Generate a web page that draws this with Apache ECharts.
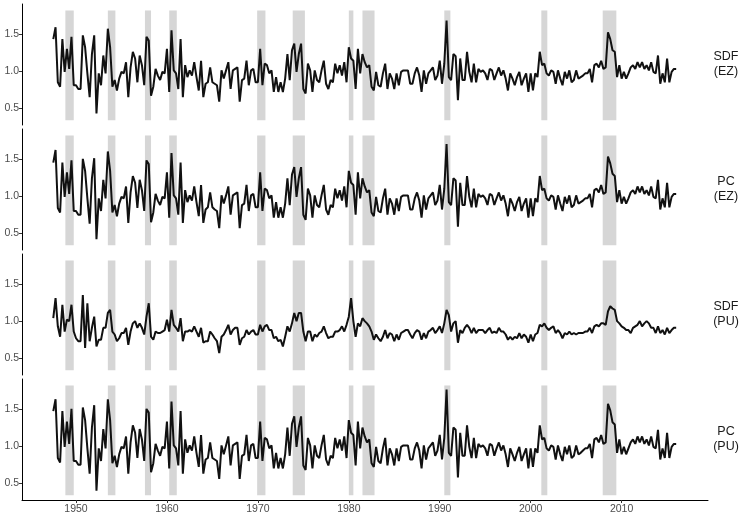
<!DOCTYPE html>
<html>
<head>
<meta charset="utf-8">
<script src="https://cdn.jsdelivr.net/npm/echarts@6.0.0/dist/echarts.min.js"></script>
<style>
  html, body { margin: 0; padding: 0; background: #fff; }
  #chart { width: 747px; height: 518px; }
</style>
</head>
<body>
<div id="chart"></div>
<script>
// quarterly series, first quarter at 1947.5
const startYear = 1947.5
const panelNames = ['SDF\n(EZ)', 'PC\n(EZ)', 'SDF\n(PU)', 'PC\n(PU)']

const sdfEZ = [
  1.43,1.59,0.85,0.79,1.43,0.99,1.30,1.03,1.46,0.81,
  0.81,0.76,0.76,1.48,1.32,0.97,0.65,1.23,1.48,0.43,
  0.97,0.81,1.21,0.97,1.57,1.32,0.79,0.88,0.74,0.90,
  0.99,0.97,1.12,0.65,1.05,1.26,1.17,0.85,1.21,1.08,
  0.81,1.46,1.41,0.67,0.79,1.03,0.94,0.88,0.99,0.97,
  1.30,0.72,1.55,1.01,0.97,0.76,1.43,0.65,1.08,0.92,
  1.01,0.94,1.12,0.92,0.74,1.14,0.65,0.83,0.85,1.05,
  0.85,0.83,0.81,0.59,1.01,0.90,1.01,1.12,0.76,1.01,
  1.03,1.05,0.59,0.88,0.90,1.14,0.81,1.01,1.03,0.85,
  0.85,1.30,0.81,1.10,1.08,0.97,1.01,0.72,0.92,0.72,
  0.85,0.72,0.90,1.23,0.88,1.28,1.37,0.99,1.23,1.37,
  0.76,0.70,1.10,1.01,0.72,1.01,0.88,0.85,1.01,1.14,
  0.83,0.76,0.88,0.85,1.10,0.97,1.08,0.94,1.12,0.85,
  1.32,1.17,1.14,0.76,1.30,0.97,1.23,1.12,1.05,1.08,
  0.79,0.74,0.99,0.81,0.79,0.97,1.10,0.76,0.97,0.90,
  0.76,0.97,0.81,0.99,1.01,1.01,1.01,0.83,0.83,0.97,
  1.05,0.94,0.72,1.01,0.83,0.97,1.01,1.05,0.88,0.94,
  1.14,0.83,1.10,1.68,0.92,0.88,1.23,1.20,0.61,1.17,
  0.88,0.88,1.26,0.99,0.85,1.10,0.85,1.03,0.99,1.01,
  0.97,0.88,1.03,1.01,0.88,0.97,1.05,0.94,1.01,0.90,
  0.74,0.97,0.90,0.81,0.92,0.99,0.81,0.90,0.97,0.72,
  0.97,0.74,0.97,0.92,1.26,1.08,1.10,0.97,0.94,1.01,
  0.99,0.83,1.01,0.90,0.81,0.99,0.90,1.01,0.85,0.88,
  1.01,0.90,0.92,0.94,0.97,0.97,1.03,0.85,1.08,1.10,
  1.05,1.14,1.03,1.05,1.52,1.43,1.28,1.26,0.92,1.08,
  0.90,0.99,0.90,0.97,1.05,1.08,1.03,1.12,1.05,1.12,
  1.03,1.08,1.01,1.12,0.99,0.97,1.21,0.83,0.97,0.85,
  1.17,0.85,0.99,1.03,1.03
]

const pcEZ = [
  1.45,1.62,0.84,0.78,1.45,0.99,1.32,1.03,1.48,0.80,
  0.80,0.75,0.75,1.50,1.34,0.97,0.63,1.24,1.51,0.42,
  0.97,0.80,1.22,0.97,1.60,1.34,0.78,0.88,0.73,0.90,
  0.99,0.97,1.13,0.64,1.05,1.27,1.18,0.84,1.22,1.08,
  0.80,1.48,1.43,0.65,0.78,1.03,0.94,0.88,0.99,0.97,
  1.32,0.71,1.58,1.01,0.97,0.75,1.45,0.64,1.08,0.92,
  1.01,0.94,1.13,0.92,0.73,1.15,0.64,0.82,0.85,1.05,
  0.85,0.82,0.80,0.57,1.01,0.90,1.01,1.13,0.75,1.01,
  1.03,1.05,0.57,0.88,0.90,1.15,0.80,1.01,1.03,0.85,
  0.85,1.32,0.80,1.10,1.08,0.97,1.01,0.71,0.92,0.71,
  0.85,0.71,0.90,1.24,0.88,1.29,1.39,0.99,1.24,1.39,
  0.75,0.68,1.10,1.01,0.71,1.01,0.88,0.85,1.01,1.15,
  0.82,0.75,0.88,0.85,1.10,0.97,1.08,0.94,1.13,0.85,
  1.34,1.18,1.15,0.75,1.32,0.97,1.24,1.13,1.05,1.08,
  0.78,0.73,0.99,0.80,0.78,0.97,1.10,0.75,0.97,0.90,
  0.75,0.97,0.80,0.99,1.01,1.01,1.01,0.82,0.82,0.97,
  1.05,0.94,0.71,1.01,0.82,0.97,1.01,1.05,0.88,0.94,
  1.15,0.82,1.10,1.70,0.92,0.88,1.24,1.21,0.59,1.18,
  0.88,0.88,1.27,0.99,0.85,1.10,0.85,1.03,0.99,1.01,
  0.97,0.88,1.03,1.01,0.88,0.97,1.05,0.94,1.01,0.90,
  0.73,0.97,0.90,0.80,0.92,0.99,0.80,0.90,0.97,0.71,
  0.97,0.73,0.97,0.92,1.27,1.08,1.10,0.97,0.94,1.01,
  0.99,0.82,1.01,0.90,0.80,0.99,0.90,1.01,0.85,0.88,
  1.01,0.90,0.92,0.94,0.97,0.97,1.03,0.85,1.08,1.10,
  1.05,1.15,1.03,1.05,1.53,1.44,1.30,1.27,0.92,1.08,
  0.90,0.99,0.90,0.97,1.05,1.08,1.03,1.13,1.05,1.13,
  1.03,1.08,1.01,1.13,0.99,0.97,1.22,0.82,0.97,0.85,
  1.18,0.85,0.99,1.03,1.03
]

const sdfPU = [
  1.04,1.31,0.93,0.79,1.22,0.86,1.02,1.00,1.22,0.86,
  0.77,0.73,0.73,1.35,0.64,1.24,0.73,0.91,1.06,0.66,
  0.75,0.75,0.91,0.91,1.11,1.15,0.86,0.82,0.73,0.77,
  0.84,0.84,0.91,0.68,0.86,0.97,1.00,0.91,0.97,0.91,
  0.82,1.06,1.24,0.79,0.75,0.86,0.84,0.84,0.86,0.88,
  1.02,0.86,1.15,0.95,0.91,0.86,1.04,0.73,0.86,0.86,
  0.88,0.86,0.93,0.86,0.79,0.91,0.71,0.73,0.73,0.86,
  0.82,0.77,0.73,0.57,0.79,0.82,0.88,0.95,0.82,0.88,
  0.91,0.91,0.68,0.77,0.79,0.88,0.82,0.86,0.88,0.82,
  0.82,0.95,0.86,0.93,0.95,0.88,0.88,0.77,0.79,0.73,
  0.75,0.66,0.79,0.93,0.86,0.97,1.11,1.00,1.11,1.11,
  0.86,0.73,0.86,0.86,0.73,0.82,0.79,0.84,0.86,0.93,
  0.84,0.77,0.79,0.79,0.86,0.86,0.88,0.93,0.86,0.95,
  1.06,1.31,1.00,0.79,0.97,0.93,1.04,1.00,0.97,0.93,
  0.86,0.75,0.82,0.77,0.73,0.79,0.88,0.77,0.84,0.82,
  0.73,0.82,0.75,0.84,0.86,0.88,0.88,0.82,0.77,0.84,
  0.88,0.86,0.75,0.84,0.77,0.86,0.88,0.91,0.84,0.88,
  0.93,0.84,0.97,1.15,1.08,0.86,0.97,1.00,0.71,0.88,
  0.84,0.91,0.95,0.91,0.84,0.91,0.84,0.88,0.88,0.88,
  0.84,0.88,0.91,0.84,0.86,0.84,0.91,0.86,0.86,0.82,
  0.75,0.79,0.75,0.79,0.77,0.84,0.77,0.82,0.79,0.71,
  0.82,0.73,0.82,0.84,0.95,0.93,0.97,0.91,0.88,0.91,
  0.93,0.84,0.88,0.84,0.77,0.84,0.82,0.86,0.82,0.84,
  0.82,0.84,0.84,0.84,0.86,0.86,0.91,0.84,0.93,0.95,
  0.93,0.97,0.97,0.95,1.13,1.20,1.17,1.15,1.00,0.97,
  0.93,0.91,0.88,0.88,0.84,0.91,0.93,0.95,1.00,0.93,
  0.97,1.00,0.97,0.91,0.91,0.84,0.93,0.84,0.88,0.82,
  0.91,0.84,0.88,0.91,0.91
]

const pcPU = [
  1.47,1.63,0.84,0.78,1.47,0.99,1.33,1.03,1.50,0.80,
  0.80,0.75,0.75,1.52,1.35,0.97,0.63,1.25,1.55,0.40,
  0.97,0.80,1.23,0.97,1.63,1.35,0.77,0.87,0.72,0.89,
  0.99,0.97,1.13,0.63,1.05,1.28,1.18,0.84,1.23,1.09,
  0.80,1.50,1.45,0.65,0.77,1.03,0.94,0.87,0.99,0.97,
  1.33,0.70,1.60,1.01,0.97,0.74,1.47,0.63,1.09,0.91,
  1.01,0.94,1.13,0.91,0.72,1.15,0.63,0.82,0.84,1.05,
  0.84,0.82,0.80,0.56,1.01,0.89,1.01,1.13,0.74,1.01,
  1.03,1.05,0.56,0.87,0.89,1.15,0.80,1.01,1.03,0.84,
  0.84,1.33,0.80,1.11,1.09,0.97,1.01,0.70,0.91,0.70,
  0.84,0.70,0.89,1.25,0.87,1.30,1.40,0.99,1.25,1.40,
  0.74,0.68,1.11,1.01,0.70,1.01,0.87,0.84,1.01,1.15,
  0.82,0.74,0.87,0.84,1.11,0.97,1.09,0.94,1.13,0.84,
  1.35,1.18,1.15,0.74,1.33,0.97,1.25,1.13,1.05,1.09,
  0.77,0.72,0.99,0.80,0.77,0.97,1.11,0.74,0.97,0.89,
  0.74,0.97,0.80,0.99,1.01,1.01,1.01,0.82,0.82,0.97,
  1.05,0.94,0.70,1.01,0.82,0.97,1.01,1.05,0.87,0.94,
  1.15,0.82,1.11,1.76,0.91,0.87,1.25,1.22,0.58,1.18,
  0.87,0.87,1.28,0.99,0.84,1.11,0.84,1.03,0.99,1.01,
  0.97,0.87,1.03,1.01,0.87,0.97,1.05,0.94,1.01,0.89,
  0.72,0.97,0.89,0.80,0.91,0.99,0.80,0.89,0.97,0.70,
  0.97,0.72,0.97,0.91,1.28,1.09,1.11,0.97,0.94,1.01,
  0.99,0.82,1.01,0.89,0.80,0.99,0.89,1.01,0.84,0.87,
  1.01,0.89,0.91,0.94,0.97,0.97,1.03,0.84,1.09,1.11,
  1.05,1.15,1.03,1.05,1.57,1.48,1.32,1.29,0.91,1.09,
  0.89,0.99,0.89,0.97,1.05,1.09,1.03,1.13,1.05,1.13,
  1.03,1.09,1.01,1.13,0.99,0.97,1.22,0.82,0.97,0.84,
  1.18,0.84,0.99,1.03,1.03
]

// NBER recessions (decimal years)
const recStart = [1948.83, 1953.5, 1957.58, 1960.25, 1969.92, 1973.83, 1980.0, 1981.5, 1990.5, 2001.17, 2007.92]
const recEnd   = [1949.75, 1954.33, 1958.25, 1961.08, 1970.83, 1975.17, 1980.5, 1982.83, 1991.17, 2001.83, 2009.42]
const recLow = 0.34
const recHigh = 1.815

const xTicks = [1950, 1960, 1970, 1980, 1990, 2000, 2010]
const yTicks = [0.5, 1.0, 1.5]

const allSeries = [sdfEZ, pcEZ, sdfPU, pcPU]
const panelTops = [4, 129, 254, 379]
const panelHeight = 121
const fontFamily = 'Liberation Sans, Arial, sans-serif'

const chart = echarts.init(document.getElementById('chart'))

const grids = panelTops.map(t => ({ left: 22, width: 686, top: t, height: panelHeight }))

const xAxes = panelTops.map((t, i) => ({
  type: 'value',
  gridIndex: i,
  min: 1944.06,
  max: 2019.5,
  splitLine: { show: false },
  axisLine: { show: i === 3, onZero: false, lineStyle: { color: '#000', width: 1 } },
  axisTick: { show: i === 3, customValues: xTicks, length: 3, lineStyle: { color: '#333' } },
  axisLabel: {
    show: i === 3,
    customValues: xTicks,
    color: '#4d4d4d',
    fontSize: 10.5,
    margin: 4,
    formatter: v => String(v)
  }
}))

const yAxes = panelTops.map((t, i) => ({
  type: 'value',
  gridIndex: i,
  min: 0.276,
  max: 1.902,
  splitLine: { show: false },
  axisLine: { show: true, lineStyle: { color: '#000', width: 1 } },
  axisTick: { show: true, customValues: yTicks, length: 3, lineStyle: { color: '#333' } },
  axisLabel: {
    customValues: yTicks,
    color: '#4d4d4d',
    fontSize: 10.5,
    margin: 3,
    formatter: v => v.toFixed(1)
  }
}))

const series = allSeries.map((vals, i) => ({
  type: 'line',
  xAxisIndex: i,
  yAxisIndex: i,
  data: vals.map((v, k) => [startYear + k / 4, v]),
  showSymbol: false,
  symbol: 'none',
  lineStyle: { color: '#111', width: 2 },
  z: 3,
  markArea: {
    silent: true,
    itemStyle: { color: '#d6d6d6' },
    data: recStart.map((s, k) => [
      { xAxis: s, yAxis: recLow },
      { xAxis: recEnd[k], yAxis: recHigh }
    ])
  }
}))

// facet strip labels on the right side
const stripLabels = panelNames.map((name, i) => ({
  type: 'text',
  x: 726,
  y: panelTops[i] + panelHeight / 2,
  style: {
    text: name,
    align: 'center',
    verticalAlign: 'middle',
    fontSize: 12.5,
    lineHeight: 15,
    fill: '#1a1a1a',
    fontFamily: fontFamily
  }
}))

chart.setOption({
  animation: false,
  backgroundColor: '#fff',
  textStyle: { fontFamily: fontFamily },
  grid: grids,
  xAxis: xAxes,
  yAxis: yAxes,
  series: series,
  graphic: stripLabels
})
</script>
</body>
</html>
